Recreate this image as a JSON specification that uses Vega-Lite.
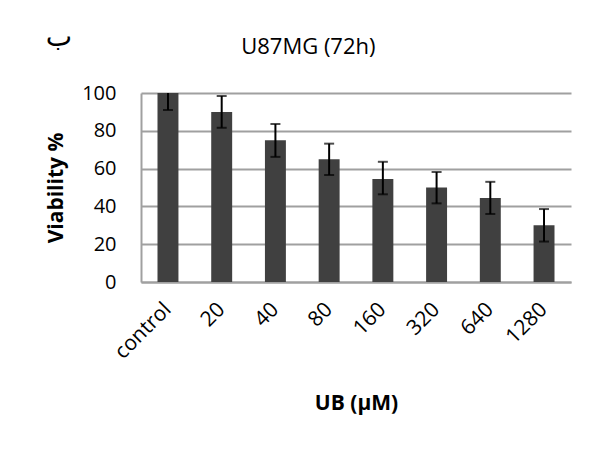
{
  "$schema": "https://vega.github.io/schema/vega-lite/v6.json",
  "background": "white",
  "padding": {"left": 45, "top": 24, "right": 26, "bottom": 5},
  "title": {"text": "ب", "anchor": "start", "frame": "bounds", "font": "DejaVu Sans", "fontSize": 28, "fontWeight": "normal", "color": "#000000", "offset": -30, "dy": -14},
  "config": {
    "view": {"stroke": null},
    "font": "Open Sans",
    "axisY": {
      "titleFont": "Open Sans", "titleFontSize": 21, "titleFontWeight": "bold", "titleColor": "#000000", "titlePadding": 15,
      "labelOverlap": false, "labelFlush": false,
      "labelFont": "Open Sans", "labelFontSize": 20, "labelColor": "#000000", "labelPadding": 25,
      "ticks": false, "domainColor": "#a0a0a0", "domainWidth": 2,
      "gridColor": "#a0a0a0", "gridWidth": 2, "gridOpacity": 1
    }
  },
  "data": {
    "values": [
      {"dose": "control", "viability": 100, "lo": 91, "hi": 109},
      {"dose": "20", "viability": 90, "lo": 81.6, "hi": 98.4},
      {"dose": "40", "viability": 75, "lo": 66.2, "hi": 83.6},
      {"dose": "80", "viability": 65, "lo": 56.6, "hi": 73.2},
      {"dose": "160", "viability": 54.5, "lo": 46.4, "hi": 63.6},
      {"dose": "320", "viability": 50, "lo": 41.6, "hi": 58.2},
      {"dose": "640", "viability": 44.5, "lo": 36.0, "hi": 53.0},
      {"dose": "1280", "viability": 30, "lo": 21.4, "hi": 38.6}
    ]
  },
  "vconcat": [
    {
      "width": 430,
      "height": 189,
      "title": {"text": "U87MG (72h)", "anchor": "middle", "frame": "bounds", "font": "Open Sans", "fontSize": 22, "fontWeight": "normal", "color": "#000000", "offset": 24},
      "encoding": {
        "x": {
          "field": "dose", "type": "nominal", "sort": null,
          "scale": {"paddingInner": 0.61, "paddingOuter": 0.307},
          "axis": {
            "title": "UB (μM)", "titleFont": "Open Sans", "titleFontSize": 21, "titleFontWeight": "bold", "titleColor": "#000000", "titlePadding": 30,
            "labelAngle": -45, "labelBaseline": "middle", "labelFont": "Open Sans", "labelFontSize": 21, "labelColor": "#000000", "labelPadding": 24,
            "ticks": false, "domainColor": "#a0a0a0", "domainWidth": 2, "grid": false
          }
        }
      },
      "layer": [
        {
          "mark": {"type": "bar", "color": "#404040"},
          "encoding": {
            "y": {
              "field": "viability", "type": "quantitative",
              "scale": {"domain": [0, 100], "nice": false},
              "axis": {"title": "Viability %", "values": [0, 20, 40, 60, 80, 100]}
            }
          }
        },
        {
          "mark": {"type": "rule", "color": "#000000", "strokeWidth": 2, "clip": true},
          "encoding": {
            "y": {"field": "lo", "type": "quantitative", "axis": {"title": "Viability %", "values": [0, 20, 40, 60, 80, 100]}},
            "y2": {"field": "hi"}
          }
        },
        {
          "mark": {"type": "tick", "color": "#000000", "thickness": 2, "size": 10, "clip": true},
          "encoding": {
            "y": {"field": "lo", "type": "quantitative", "axis": {"title": "Viability %", "values": [0, 20, 40, 60, 80, 100]}}
          }
        },
        {
          "mark": {"type": "tick", "color": "#000000", "thickness": 2, "size": 10, "clip": true},
          "encoding": {
            "y": {"field": "hi", "type": "quantitative", "axis": {"title": "Viability %", "values": [0, 20, 40, 60, 80, 100]}}
          }
        }
      ]
    }
  ]
}
